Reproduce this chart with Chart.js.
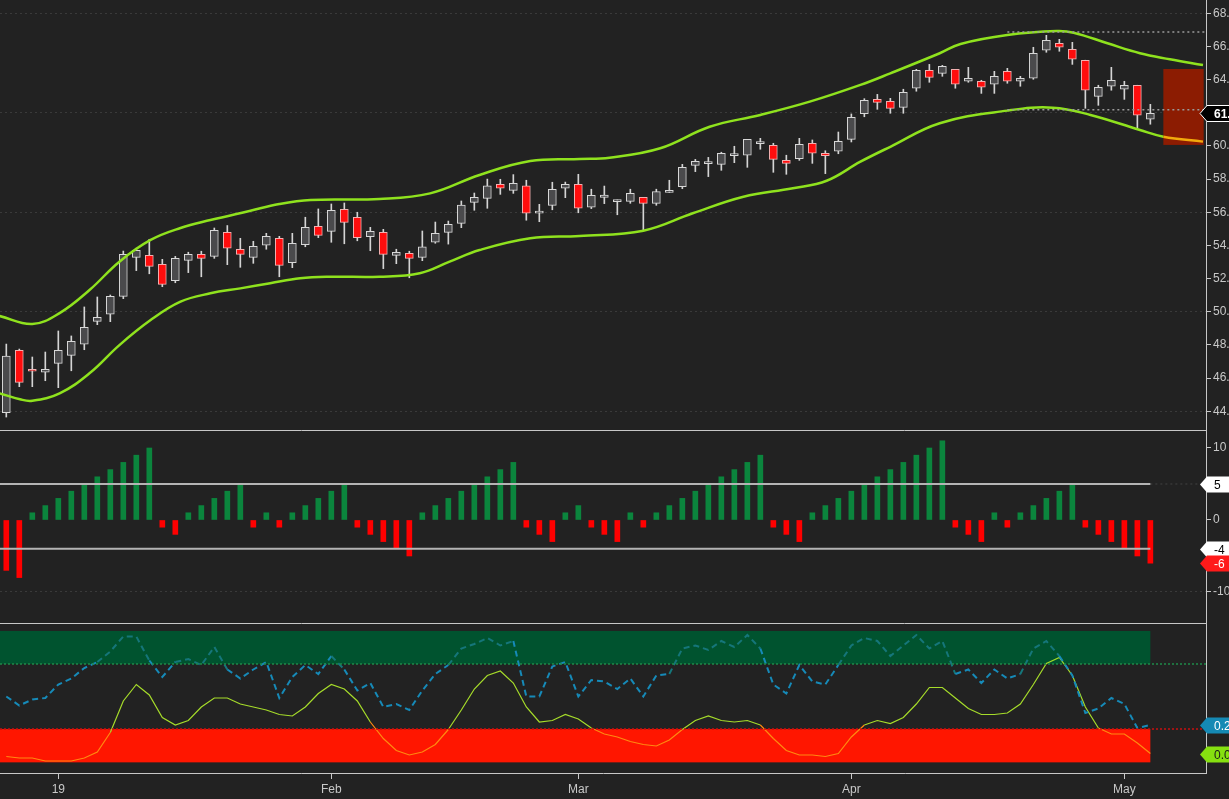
<!DOCTYPE html>
<html>
<head>
<meta charset="utf-8">
<script src="https://cdn.jsdelivr.net/npm/chart.js@4.4.1/dist/chart.umd.min.js"></script>
<style>
  html, body { margin: 0; padding: 0; background: #222222; overflow: hidden; }
  #wrap { position: relative; width: 1229px; height: 799px; background: #222222; }
  canvas { position: absolute; left: 0; }
</style>
</head>
<body>
<div id="wrap">
  <canvas id="priceChart" width="1229" height="430" style="top:0px"></canvas>
  <canvas id="histChart" width="1229" height="193" style="top:430px"></canvas>
  <canvas id="oscChart" width="1229" height="176" style="top:623px"></canvas>
</div>
<script>
// daily bars, 26 Dec 2018 – 3 May 2019 (index 0..88)

// === price data ===
const opens = [43.91,47.67,46.53,46.35,46.89,47.37,48.04,49.42,49.85,50.93,
  53.28,53.40,52.86,51.87,53.10,53.46,53.34,54.79,53.77,53.28,
  54.01,54.43,52.96,54.04,55.15,54.85,56.18,55.70,54.53,54.79,
  53.40,53.52,53.28,54.19,54.79,55.33,56.60,56.84,57.69,57.32,
  57.60,55.95,56.42,57.45,57.69,56.30,56.90,56.64,56.66,56.90,
  56.54,57.20,57.54,58.83,58.93,58.89,59.42,59.44,60.14,60.04,
  59.13,59.23,60.16,59.56,59.68,60.40,61.94,62.81,62.69,62.33,
  63.48,64.56,64.38,64.62,63.90,63.90,63.72,64.50,63.90,64.08,
  65.77,66.19,65.83,65.17,62.99,63.60,63.42,63.66,61.61];
const highs = [48.05,47.75,47.27,47.57,48.84,48.54,50.29,50.89,51.01,53.66,
  53.83,54.37,53.16,53.34,53.59,53.65,55.05,55.20,54.43,54.25,
  54.73,54.55,54.73,55.70,56.20,56.50,56.56,56.00,55.09,54.97,
  53.77,53.65,54.87,55.41,55.47,56.68,57.16,58.00,57.99,58.27,
  57.93,56.48,57.81,57.82,58.29,57.39,57.58,56.74,57.39,56.90,
  57.39,57.93,58.89,59.19,59.31,59.62,59.98,60.40,60.46,60.16,
  59.44,60.46,60.36,59.71,60.84,61.93,62.85,63.11,62.87,63.42,
  64.62,64.92,64.86,64.62,64.74,63.96,64.50,64.68,64.20,65.95,
  66.67,66.43,66.25,65.17,63.66,64.74,63.90,63.66,62.51];
const lows = [43.65,45.48,45.48,45.84,45.42,46.44,47.71,49.22,49.40,50.79,
  52.48,52.29,51.51,51.75,52.36,52.11,53.22,52.84,52.68,52.92,
  53.77,52.11,52.66,53.92,54.47,54.19,54.10,54.28,53.68,52.60,
  52.90,52.05,53.08,54.13,54.08,55.07,56.12,56.24,57.08,57.14,
  55.52,55.43,56.15,56.88,55.97,56.22,56.52,55.85,56.54,54.95,
  56.42,57.20,57.42,58.45,58.15,58.53,58.99,58.71,59.80,58.41,
  58.29,59.13,58.95,58.33,59.53,60.24,61.76,62.21,61.97,61.97,
  63.30,63.84,64.20,63.48,63.84,63.17,63.17,63.78,63.60,64.02,
  65.65,65.71,64.92,62.27,62.45,63.36,62.81,61.00,61.31];
const closes = [47.33,45.74,46.41,46.53,47.67,48.22,49.06,49.66,50.93,53.46,
  53.71,52.74,51.65,53.22,53.46,53.22,54.91,53.83,53.46,53.95,
  54.55,52.80,54.13,55.09,54.61,56.12,55.39,54.47,54.85,53.46,
  53.59,53.22,53.92,54.73,55.27,56.44,56.90,57.60,57.45,57.75,
  55.94,55.97,57.38,57.69,56.24,57.02,57.04,56.72,57.14,56.54,
  57.24,57.32,58.71,59.07,58.97,59.56,59.46,60.40,60.18,59.19,
  58.95,60.10,59.56,59.41,60.28,61.73,62.75,62.63,62.27,63.24,
  64.56,64.14,64.80,63.72,64.08,63.54,64.20,63.90,64.08,65.59,
  66.37,65.95,65.23,63.36,63.54,63.96,63.66,61.85,61.97];

// envelope bands, read at sampled bar positions
const upperX = [-0.5,2,4.1,6.4,8.7,11.1,13.4,15.7,18.7,21,23.4,28.7,32.6,36.4,40.3,44.1,
  46.4,50.3,54.1,58,61.8,65.7,68,71.8,73.4,77,80.8,82.1,84.7,87.2,89.5,92.05];
const upperY = [49.74,49.26,49.92,51.31,53.02,54.33,55.05,55.53,56.08,56.5,56.74,56.8,57.14,58.25,59.09,59.21,
  59.29,59.86,61.16,61.87,62.67,63.68,64.38,65.59,66.15,66.69,66.93,66.83,66.19,65.59,65.23,64.88];
const lowerX = [-0.5,1.05,2,4.1,6.4,8.7,11.1,13.4,15.7,18,20.3,22.6,24.9,28.7,31.8,34.1,36.4,
  40.3,44.1,49,52.8,56.7,60.5,63.1,65.7,68,71.8,77,80.5,83.4,87.2,89,92.05];
const lowerY = [45.08,44.72,44.63,45.08,46.29,47.99,49.5,50.61,51.11,51.41,51.72,52.02,52.11,52.11,52.32,53.02,53.72,
  54.43,54.57,54.89,55.94,56.94,57.45,57.9,59.05,59.95,61.37,62.13,62.31,61.87,60.96,60.56,60.26];

// dotted levels and projection box (top panel)
const levelStart = 77;
const levelValues = [66.87, 62.19];
const boxX = [89.0, 92.1];
const boxY = [60.06, 64.64];

// === histogram ===
const hist = [-7,-8,1,2,3,4,5,6,7,8,9,10,-1,-2,1,2,3,4,5,-1,1,-1,1,2,3,4,5,-1,-2,-3,-4,-5,
  1,2,3,4,5,6,7,8,-1,-2,-3,1,2,-1,-2,-3,1,-1,1,2,3,4,5,6,7,8,9,-1,-2,-3,
  1,2,3,4,5,6,7,8,9,10,11,-1,-2,-3,1,-1,1,2,3,4,5,-1,-2,-3,-4,-5,-6];
const histLevels = [5, -4];

// === oscillator ===
const oscBlue = [0.39,0.33,0.37,0.38,0.47,0.51,0.58,0.62,0.69,0.79,0.79,0.63,0.52,0.62,0.64,0.60,
  0.72,0.57,0.51,0.57,0.62,0.38,0.52,0.60,0.54,0.66,0.57,0.43,0.48,0.32,0.34,0.30,0.43,0.54,
  0.60,0.71,0.74,0.78,0.73,0.76,0.39,0.39,0.59,0.62,0.39,
  0.50,0.49,0.44,0.51,0.39,0.53,0.54,0.71,0.73,0.70,0.76,0.72,0.80,0.71,0.47,0.41,0.60,0.49,
  0.47,0.60,0.73,0.78,0.76,0.66,0.73,0.80,0.71,0.76,0.54,0.57,0.48,0.57,0.51,0.54,0.71,0.76,
  0.66,0.53,0.28,0.31,0.38,0.34,0.18,0.20];
const oscGreen = [-0.01,-0.02,-0.02,-0.04,-0.04,-0.04,-0.02,0.02,0.15,0.36,0.47,0.40,0.25,0.20,
  0.23,0.32,0.38,0.38,0.34,0.32,0.30,0.27,0.26,0.32,0.41,0.47,0.44,0.36,0.22,0.11,0.03,0.00,
  0.02,0.07,0.17,0.30,0.44,0.53,0.56,0.48,0.32,0.22,0.23,0.27,0.24,
  0.18,0.14,0.12,0.09,0.07,0.06,0.10,0.17,0.23,0.26,0.23,0.22,0.23,0.20,0.11,0.03,0.00,0.00,
  -0.01,0.01,0.12,0.20,0.23,0.21,0.25,0.34,0.45,0.45,0.38,0.31,0.27,0.27,0.28,0.34,0.47,0.61,
  0.65,0.53,0.32,0.18,0.14,0.14,0.08,0.01];
const greenZone = [0.607, 0.827];
const redZone = [-0.049, 0.173];
const zoneEnd = 88;

// === axes ===
const priceTicks = [44,46,48,50,52,54,56,58,60,62,64,66,68];
const priceGrid = [44,50,56,62,68];
const histTicks = [10, 0, -10];
const monthIdx = [4, 25, 44, 65, 86];
const monthText = ["19", "Feb", "Mar", "Apr", "May"];

const X_MIN = -0.485, X_MAX = 92.28;
const AXIS_W = 23;
const AXIS_COLOR = "#c8c8c8";
const idx = closes.map((_, i) => i);

Chart.defaults.font.family = "'Liberation Sans', Arial, sans-serif";
Chart.defaults.font.size = 12;
Chart.defaults.color = "#c8c8c8";
Chart.defaults.animation = false;

// --- helpers ---
function rightAxisFit(scale) {
  scale.width = AXIS_W;
  scale.paddingTop = 0;
  scale.paddingBottom = 0;
}

function xAxis(show) {
  return {
    type: "linear", min: X_MIN, max: X_MAX, display: show,
    offset: false, grid: { offset: false },
    afterFit: s => { s.paddingLeft = 0; s.paddingRight = 0; }
  };
}

function hLine(value, from, to, color, dash, width) {
  return {
    type: "line",
    data: [{ x: from, y: value }, { x: to, y: value }],
    borderColor: color, borderWidth: width || 1, borderDash: dash || [],
    pointRadius: 0, order: 0
  };
}

// pointed value tags sitting on the right axis
function tagPlugin(tags) {
  return {
    id: "tags",
    afterDraw(chart) {
      const c = chart.ctx;
      const yScale = chart.scales.y;
      const x0 = chart.chartArea.right - 6;
      const h = 16;
      tags().forEach(t => {
        const y = Math.round(yScale.getPixelForValue(t.value)) + 0.5;
        c.save();
        c.beginPath();
        c.moveTo(x0, y);
        c.lineTo(x0 + 7, y - h / 2);
        c.lineTo(chart.width + 2, y - h / 2);
        c.lineTo(chart.width + 2, y + h / 2);
        c.lineTo(x0 + 7, y + h / 2);
        c.closePath();
        c.fillStyle = t.fill;
        c.fill();
        if (t.stroke) { c.strokeStyle = t.stroke; c.lineWidth = 1; c.stroke(); }
        c.fillStyle = t.color;
        c.font = (t.bold ? "bold " : "") + "12px 'Liberation Sans', Arial, sans-serif";
        c.textBaseline = "middle";
        c.textAlign = "left";
        c.fillText(t.text, x0 + 14, y + 1);
        c.restore();
      });
    }
  };
}

const topRule = {
  id: "topRule",
  afterDraw(chart) {
    const c = chart.ctx;
    c.save();
    c.strokeStyle = AXIS_COLOR;
    c.lineWidth = 1;
    c.beginPath();
    c.moveTo(0, 0.5);
    c.lineTo(chart.chartArea.right, 0.5);
    c.stroke();
    c.restore();
  }
};

// === top panel: candles + envelope ===
const priceBox = {
  id: "priceBox",
  beforeDatasetsDraw(chart) {
    const { x, y } = chart.scales;
    const c = chart.ctx;
    const l = x.getPixelForValue(boxX[0]), r = x.getPixelForValue(boxX[1]);
    const t = y.getPixelForValue(boxY[1]), b = y.getPixelForValue(boxY[0]);
    c.save();
    c.fillStyle = "#8c1c02";
    c.fillRect(l, t, r - l, b - t);
    c.restore();
  }
};

new Chart(document.getElementById("priceChart"), {
  type: "bar",
  data: {
    datasets: [
      {
        data: idx.map(i => ({ x: i, y: [lows[i], highs[i]] })),
        backgroundColor: "#d4d4d4",
        barThickness: 1, grouped: false, order: 3
      },
      {
        data: idx.map(i => ({ x: i, y: [opens[i], closes[i]] })),
        backgroundColor: c => closes[c.dataIndex] >= opens[c.dataIndex] ? "#4a4a4c" : "#ff0d0d",
        borderColor: c => closes[c.dataIndex] >= opens[c.dataIndex] ? "#d8d8d8" : "#f2b0b0",
        borderWidth: 1, borderSkipped: false, minBarLength: 2,
        barThickness: 8, grouped: false, order: 2
      },
      {
        type: "line",
        data: upperX.map((v, i) => ({ x: v, y: upperY[i] })),
        borderColor: "#8fe21e", borderWidth: 2.5, tension: 0.4, pointRadius: 0, order: 1
      },
      {
        type: "line",
        data: lowerX.map((v, i) => ({ x: v, y: lowerY[i] })),
        borderColor: "#8fe21e", borderWidth: 2.5, tension: 0.4, pointRadius: 0, order: 1,
        segment: { borderColor: c => c.p0.parsed.x >= boxX[0] - 0.01 ? "#f2a90c" : "#8fe21e" }
      },
      hLine(levelValues[0], levelStart, X_MAX, "#9a9a9a", [2, 3], 1.5),
      hLine(levelValues[1], levelStart, X_MAX, "#9a9a9a", [2, 3], 1.5)
    ]
  },
  options: {
    responsive: false,
    layout: { padding: 0 },
    plugins: { legend: { display: false }, tooltip: { enabled: false } },
    scales: {
      x: xAxis(false),
      y: {
        position: "right", min: 42.868, max: 68.802,
        afterBuildTicks: s => { s.ticks = priceTicks.map(v => ({ value: v })); },
        afterFit: rightAxisFit,
        ticks: { padding: 2, callback: v => v.toFixed(2) },
        grid: {
          color: c => (c.tick && priceGrid.includes(c.tick.value)) ? "rgba(255,255,255,0.11)" : "rgba(0,0,0,0)",
          tickColor: AXIS_COLOR, tickLength: 5, tickBorderDash: []
        },
        border: { display: true, color: AXIS_COLOR, dash: [2, 3] }
      }
    }
  },
  plugins: [priceBox, tagPlugin(() => [
    { value: closes[closes.length - 1], text: closes[closes.length - 1].toFixed(2),
      fill: "#000000", stroke: "#ffffff", color: "#ffffff", bold: true }
  ])]
});

// === middle panel: histogram ===
new Chart(document.getElementById("histChart"), {
  type: "bar",
  data: {
    datasets: [
      {
        data: idx.map(i => ({ x: i, y: hist[i] })),
        backgroundColor: c => hist[c.dataIndex] >= 0 ? "#0b853d" : "#ff0000",
        barThickness: 5, grouped: false, order: 2
      },
      hLine(histLevels[0], X_MIN, zoneEnd, "#b4b4b4", [], 2),
      hLine(histLevels[1], X_MIN, zoneEnd, "#b4b4b4", [], 2),
      hLine(histLevels[0], zoneEnd, X_MAX, "rgba(255,255,255,0.15)", [2, 3], 1)
    ]
  },
  options: {
    responsive: false,
    layout: { padding: 0 },
    plugins: { legend: { display: false }, tooltip: { enabled: false } },
    scales: {
      x: xAxis(false),
      y: {
        position: "right", min: -14.31, max: 12.5,
        afterBuildTicks: s => { s.ticks = histTicks.map(v => ({ value: v })); },
        afterFit: rightAxisFit,
        ticks: { padding: 2 },
        grid: {
          color: c => (c.tick && c.tick.value === -10) ? "rgba(255,255,255,0.11)" : "rgba(0,0,0,0)",
          tickColor: AXIS_COLOR, tickLength: 5, tickBorderDash: []
        },
        border: { display: true, color: AXIS_COLOR, dash: [2, 3] }
      }
    }
  },
  plugins: [topRule, tagPlugin(() => [
    { value: histLevels[0], text: String(histLevels[0]), fill: "#ffffff", color: "#000000" },
    { value: histLevels[1], text: String(histLevels[1]), fill: "#ffffff", color: "#000000" },
    { value: hist[hist.length - 1], text: String(hist[hist.length - 1]), fill: "#ff1a1a", color: "#ffffff" }
  ])]
});

// === bottom panel: oscillator ===
const oscZones = {
  id: "oscZones",
  beforeDatasetsDraw(chart) {
    const { x, y } = chart.scales;
    const c = chart.ctx;
    const l = x.getPixelForValue(X_MIN), r = x.getPixelForValue(zoneEnd);
    c.save();
    c.fillStyle = "#00532f";
    c.fillRect(l, y.getPixelForValue(greenZone[1]), r - l,
      y.getPixelForValue(greenZone[0]) - y.getPixelForValue(greenZone[1]));
    c.fillStyle = "#ff1600";
    c.fillRect(l, y.getPixelForValue(redZone[1]), r - l,
      y.getPixelForValue(redZone[0]) - y.getPixelForValue(redZone[1]));
    c.restore();
  }
};

const avgY = c => (c.p0.parsed.y + c.p1.parsed.y) / 2;

new Chart(document.getElementById("oscChart"), {
  type: "line",
  data: {
    datasets: [
      hLine(greenZone[0], X_MIN, X_MAX, "#1f8a4a", [2, 2], 1.5),
      hLine(redZone[1], X_MIN, X_MAX, "#c81010", [2, 2], 1.5),
      {
        data: idx.map(i => ({ x: i, y: oscBlue[i] })),
        borderColor: "#168ab8", borderWidth: 2, borderDash: [6, 4], pointRadius: 0, tension: 0,
        segment: { borderColor: c => avgY(c) > greenZone[0] ? "#15767a" : "#168ab8" }
      },
      {
        data: idx.map(i => ({ x: i, y: oscGreen[i] })),
        borderColor: "#a6dc2a", borderWidth: 1.2, pointRadius: 0, tension: 0,
        segment: { borderColor: c => avgY(c) < redZone[1] ? "#ff8a10" : "#a6dc2a" }
      }
    ]
  },
  options: {
    responsive: false,
    layout: { padding: 0 },
    plugins: { legend: { display: false }, tooltip: { enabled: false } },
    scales: {
      x: {
        type: "linear", min: X_MIN, max: X_MAX,
        afterBuildTicks: s => { s.ticks = monthIdx.map(v => ({ value: v })); },
        afterFit: s => { s.height = 26; s.paddingLeft = 0; s.paddingRight = 0; },
        ticks: { padding: 3, maxRotation: 0, callback: v => monthText[monthIdx.indexOf(v)] },
        grid: { drawOnChartArea: false, tickColor: AXIS_COLOR, tickLength: 6 },
        border: { display: true, color: AXIS_COLOR }
      },
      y: {
        position: "right", min: -0.12, max: 0.88,
        afterFit: rightAxisFit,
        ticks: { display: false },
        grid: { display: false },
        border: { display: true, color: AXIS_COLOR }
      }
    }
  },
  plugins: [oscZones, topRule, tagPlugin(() => [
    { value: oscBlue[oscBlue.length - 1], text: oscBlue[oscBlue.length - 1].toFixed(2), fill: "#1589b4", color: "#ffffff" },
    { value: oscGreen[oscGreen.length - 1], text: oscGreen[oscGreen.length - 1].toFixed(2), fill: "#86e010", color: "#1a1a1a" }
  ])]
});
</script>
</body>
</html>
